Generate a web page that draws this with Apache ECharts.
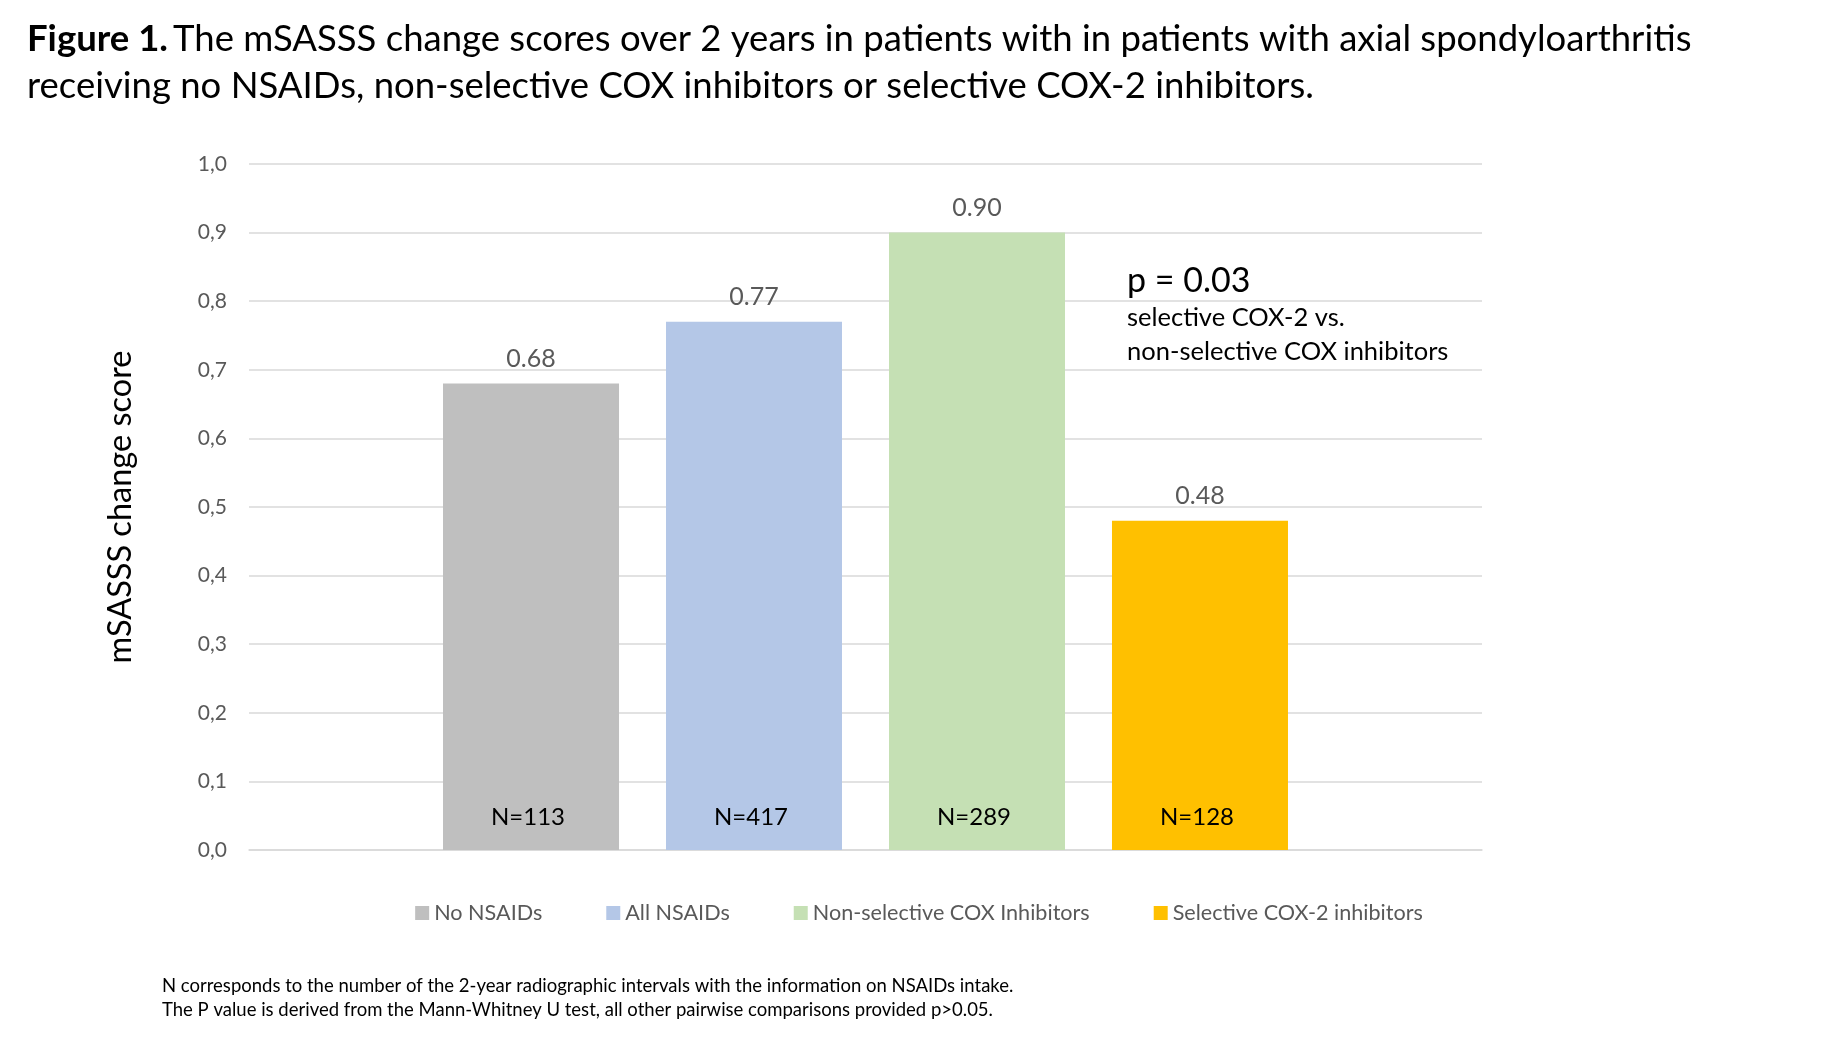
<!DOCTYPE html>
<html><head><meta charset="utf-8">
<script src="https://cdn.jsdelivr.net/npm/echarts@6/dist/echarts.min.js"></script>
<style>html,body{margin:0;padding:0;background:#fff}#c{width:1838px;height:1039px}</style>
</head><body><div id="c"></div>
<script>
const groups = ['No NSAIDs', 'All NSAIDs', 'Non-selective COX Inhibitors', 'Selective COX-2 inhibitors'];
const scores = [0.68, 0.77, 0.90, 0.48];
const counts = [113, 417, 289, 128];
const yTickLabels = ['0,0','0,1','0,2','0,3','0,4','0,5','0,6','0,7','0,8','0,9','1,0'];
const colors = ['#bfbfbf', '#b4c7e7', '#c5e0b4', '#ffc000'];
const FF = 'Lato';

const chart = echarts.init(document.getElementById('c'), null, {renderer: 'canvas'});
chart.setOption({
  animation: false,
  backgroundColor: '#fff',
  title: [
    {
      left: 22, top: 11,
      text: '{b|Figure 1.} {r|The mSASSS change scores over 2 years in patients with in patients with axial spondyloarthritis}\n{r|receiving no NSAIDs, non-selective COX inhibitors or selective COX-2 inhibitors.}',
      textStyle: {
        fontWeight: 'normal',
        rich: {
          b: {fontFamily: FF, fontWeight: 'bold', fontSize: 36.5, color: '#000', lineHeight: 47},
          r: {fontFamily: FF, fontWeight: 'normal', fontSize: 36.5, color: '#000', lineHeight: 47}
        }
      }
    },
    {
      left: 1122, top: 256,
      text: '{a|p = 0.03}\n{b|selective COX-2 vs.}\n{b|non-selective COX inhibitors}',
      textStyle: {
        fontWeight: 'normal',
        rich: {
          a: {fontFamily: FF, fontWeight: 'normal', fontSize: 34, color: '#000', lineHeight: 40},
          b: {fontFamily: FF, fontWeight: 'normal', fontSize: 25.5, color: '#000', lineHeight: 34}
        }
      }
    },
    {
      left: 157, top: 969,
      text: 'N corresponds to the number of the 2-year radiographic intervals with the information on NSAIDs intake.\nThe P value is derived from the Mann-Whitney U test, all other pairwise comparisons provided p>0.05.',
      textStyle: {fontFamily: FF, fontSize: 18.5, fontWeight: 'normal', color: '#000', lineHeight: 24}
    }
  ],
  legend: {
    data: groups,
    left: 'center', top: 897,
    icon: 'rect', itemWidth: 14, itemHeight: 14, itemGap: 64,
    textStyle: {fontFamily: FF, fontSize: 21.6, color: '#595959'}
  },
  grid: {left: 249, right: 356, top: 164, bottom: 189},
  xAxis: {
    type: 'category', data: [''],
    axisLabel: {show: false}, axisTick: {show: false},
    axisLine: {lineStyle: {color: '#d9d9d9', width: 1.5}}
  },
  yAxis: {
    type: 'value', min: 0, max: 1, interval: 0.1,
    name: 'mSASSS change score', nameLocation: 'middle', nameGap: 112,
    nameTextStyle: {fontFamily: FF, fontSize: 32.5, color: '#000'},
    axisLine: {show: false}, axisTick: {show: false},
    axisLabel: {margin: 22, fontFamily: FF, fontSize: 21, color: '#595959',
      formatter: v => yTickLabels[Math.round(v * 10)]},
    splitLine: {lineStyle: {color: '#d9d9d9', width: 1.5}}
  },
  series: groups.map((g, i) => ({
    name: g, type: 'bar', data: [scores[i]],
    barWidth: 176, barGap: '26.7%',
    itemStyle: {color: colors[i]},
    label: {show: true, position: 'top', distance: 12, color: '#595959',
      fontFamily: FF, fontSize: 25, formatter: p => p.value.toFixed(2)},
    markPoint: {
      silent: true, symbol: 'rect', symbolSize: 1,
      itemStyle: {color: 'rgba(0,0,0,0)'},
      label: {show: true, position: 'inside', offset: [-3, -33], color: '#000',
        fontFamily: FF, fontSize: 24, formatter: 'N=' + counts[i]},
      data: [{coord: [0, 0]}]
    }
  }))
});
</script></body></html>
